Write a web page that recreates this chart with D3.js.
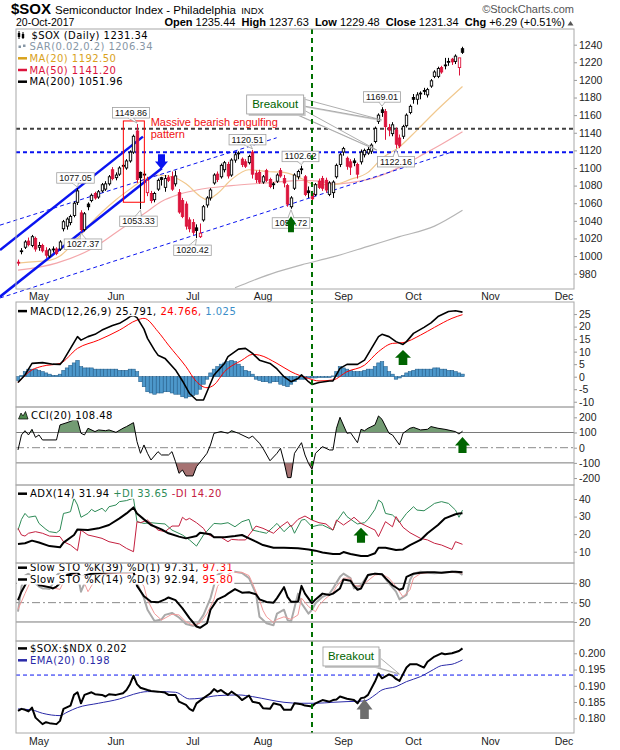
<!DOCTYPE html>
<html>
<head>
<meta charset="utf-8">
<title>$SOX Semiconductor Index</title>
<script src="https://cdn.jsdelivr.net/npm/d3@7"></script>
<style>
  body { margin: 0; background: #fff; }
  svg { display: block; }
  text { white-space: pre; }
</style>
</head>
<body>
<div id="chart"></div>
<script>
// $SOX daily, 20-Oct-2017, StockCharts style layout drawn with D3

// ---------- data ----------
// x = trading session index, 0 = 1-May-2017
const monthLabels = ["May", "Jun", "Jul", "Aug", "Sep", "Oct", "Nov", "Dec"]
const monthStarts = [0, 22, 44, 64, 87, 107, 129, 150]
const firstSession = -6      // 21-Apr-2017
const markerSession = 78     // green dashed line (21-Aug)
const closeBefore = 995      // 20-Apr close, only colours the first candle

// [open, high, low, close] per session, 21-Apr .. 20-Oct
const ohlc = [
  [993,996,989,992],[1005,1009,1002,1006],[1010,1018,1008,1016],[1017,1021,1011,1013],[1012,1024,1010,1022],[1020,1022,1005,1008],
  [1010,1016,1006,1012],[1012,1014,1004,1006],[1006,1010,998,1001],[1000,1009,998,1007],[1007,1011,1004,1008],
  [1008,1010,1001,1003],[1008,1018,1006,1016],[1031,1041,1028,1039],[1034,1044,1030,1042],[1038,1047,1035,1045],
  [1046,1062,1044,1060],[1061,1077.05,1058,1074],[1049,1052,1027.37,1030],[1030,1050,1028,1048],[1059,1061,1052,1056],
  [1063,1071,1061,1069],[1071,1073,1064,1066],[1067,1075,1065,1073],[1074,1083,1072,1081],[1076,1085,1074,1082],
  [1082,1092,1080,1090],[1098,1101,1086,1088],[1089,1095,1086,1092],[1093,1102,1091,1100],[1103,1105,1098,1102],
  [1100,1110,1098,1108],[1108,1120,1106,1118],[1118,1138,1116,1136],[1142,1149.86,1083,1087],[1095,1096,1053.33,1089],
  [1093,1097,1088,1092],[1072,1090,1068,1086],[1071,1074,1060,1063],[1064,1073,1061,1071],[1076,1088,1074,1086],
  [1089,1090,1080,1087],[1078,1092,1073,1088],[1089,1092,1084,1086],[1090,1096,1074,1076],[1082,1097,1079,1091],
  [1072,1076,1048,1050],[1063,1066,1043,1045],[1059,1062,1030,1034],[1041,1044,1027,1031],[1038,1042,1024,1027],
  [1032,1036,1020.42,1029],[1022,1037,1020.5,1026],[1041,1058,1039,1056],[1058,1068,1055,1066],[1066,1077,1063,1075],
  [1083,1094,1081,1092],[1093,1096,1084,1087],[1090,1105,1088,1103],[1098,1108,1095,1106],[1104,1107,1088,1091],
  [1092,1111,1090,1109],[1109,1118,1106,1115],[1117,1119,1110,1116],[1110,1112,1101,1104],[1107,1110,1100,1102],
  [1106,1115,1104,1113],[1118,1120.51,1088,1093],[1094,1097,1083,1087],[1095,1098,1082,1084],[1084,1092,1082,1090],
  [1097,1099,1084,1086],[1087,1089,1077,1079],[1082,1084,1076,1081],[1085,1094,1083,1092],[1097,1100,1089,1091],
  [1088,1092,1078,1083],[1080,1082,1056,1059],[1056,1068,1053.72,1066],[1077,1094,1075,1092],[1090,1098,1087,1096],
  [1099,1102.62,1093,1098],[1090,1092,1068,1070],[1074,1079,1066,1072],[1071,1074,1060,1065],[1070,1083,1068,1081],
  [1085,1088,1076,1078],[1088,1091,1074,1077],[1086,1089,1072,1075],[1070,1085,1068,1083],[1072,1086,1066,1084],
  [1090,1105,1088,1103],[1104,1117,1101,1115],[1118,1124,1114,1122],[1111,1113,1098,1102],[1107,1110,1092,1101],
  [1108,1111,1102,1106],[1104,1106,1088,1093],[1107,1121,1104,1118],[1115,1122,1112,1120],[1117,1124,1115,1121],
  [1119,1128,1116,1126],[1130,1147,1128,1145],[1153,1162,1150,1160],[1166,1169.01,1158,1163],[1164,1167,1132,1147],
  [1146,1150,1136,1143],[1139,1152,1136,1149],[1143,1146,1122.16,1127],[1134,1138,1122.5,1125],[1136,1149,1133,1147],
  [1148,1162,1146,1160],[1163,1172,1161,1170],[1180,1184,1173,1178],[1178,1186,1172,1183],[1185,1187,1178,1184],
  [1188,1191,1183,1187],[1183,1191,1180,1189],[1193,1201,1191,1199],[1204,1211,1202,1209],[1204,1215,1202,1213],
  [1214,1216,1207,1209],[1216,1225,1212,1217],[1220,1225,1216,1221],[1223.5,1225,1217,1220.5],[1221,1229,1218,1227],
  [1214,1224,1205,1225.05],[1235.44,1237.63,1229.48,1231.34]
]

// moving averages, [session, value]
const ma20 = [[-6,992],[0,994],[3,995],[6,1000],[8,1007],[10,1016],[12,1024],[15,1038],[18,1050],[22,1064],[26,1076],[30,1087],[34,1092],[38,1090],[42,1082],[46,1068],[48,1064],[51,1071],[55,1087],[60,1098],[65,1096],[70,1095],[75,1088],[79,1081],[84,1081],[89,1087],[94,1095],[98,1111],[103,1124],[108,1143],[113,1163],[117,1178],[121,1192.5]]
const ma50 = [[-6,984],[5,992],[15,1008],[25,1035],[30,1048],[35,1062],[40,1070],[45,1075],[55,1080],[65,1083],[75,1086],[80,1085],[85,1082],[90,1084],[95,1088],[100,1095],[105,1105],[110,1116],[115,1127],[121,1141.2]]
const ma200 = [[56,964],[61,972],[68,982],[75,990],[84,999],[94,1011],[103,1022],[113,1034],[121,1051.96]]

// MACD(12,26,9)
const macdLine = [[-6,-2.3],[-4,0.7],[-2,5.3],[1,5.6],[4,5.0],[6,4.9],[7,6.6],[9,11.3],[11,16],[12,14.6],[14,16],[16,16.9],[18,18.6],[21,20.4],[23,21.3],[25,23],[26,24],[27,24.4],[28,23.6],[30,19],[31,15.3],[33,10.6],[34,8.6],[36,7.3],[39,2.7],[41,-1.7],[43,-6.7],[45,-9.3],[47,-9.3],[48,-6],[50,0.7],[53,5.3],[54,8],[57,11],[59,11.3],[61,9.3],[63,6.6],[66,5.3],[68,3.1],[70,0],[72,-2],[74,-0.7],[75,0.7],[77,-2],[78,-3.1],[80,-2.3],[83,-1.7],[84,-1.7],[86,3.3],[88,4.9],[91,4.9],[93,6.6],[95,11.3],[97,16],[98,16.9],[100,16],[102,14],[104,12.9],[105,14],[107,17.3],[110,19.7],[112,21.5],[114,24],[117,26],[119,26.3],[121,25.79]]
const macdSignal = [[-6,-2.3],[-2,2.7],[1,4.2],[6,5.3],[11,11.3],[17,14.6],[23,18.6],[28,22.6],[30,23.3],[34,18],[37,12.6],[42,4],[45,-2],[48,-4.4],[50,-3.3],[53,2],[58,6.6],[61,8.9],[63,8.6],[68,5.3],[72,2],[77,-0.7],[80,-1.7],[84,-1.3],[88,2],[93,4.6],[97,10],[101,13.3],[104,13.6],[109,16.6],[113,19.7],[118,23.3],[121,24.77]]
const macdHist = [
  -1.5,0.5,2,3,3,3,
  2.5,2,1.5,1,0.5,0.5,1,2.5,3.5,4.5,
  5.5,6.5,4,3.5,3.5,3.5,3,3,3,3,
  3,3,3,2.5,2.5,2.5,3,3,2,-2,
  -4,-6,-6.5,-7,-6.5,-6.5,-6,-6,-6.5,-7,
  -7,-8,-8.5,-8,-7.5,-7,-5,-3,-1,1.5,
  3,4,5,5.5,6,6.5,6,5,4,2.5,
  2,1,-1,-1.5,-2,-2,-2.5,-2,-2,-3,
  -3.5,-4,-3,-2,-1,-1,-1,-0.5,-0.5,-0.5,
  -0.3,-0.3,-0.3,-0.3,0.3,2,4,3.5,3,2.5,
  2,2,2,2.5,3,3,4,5.5,6,4,
  2,1,-1,-0.5,0.5,1.5,2,2.5,3,3,
  3,3,3,3.5,3.5,3,3,2.5,2.5,2,
  1.5,1.025
]

// CCI(20)
const cci = [[-6,-15],[-5,84],[-4,112],[-3,84],[-2,121],[-1,68],[0,84],[1,51],[5,51],[6,150],[8,165],[10,182],[11,182],[12,95],[13,84],[14,128],[16,106],[17,117],[19,112],[20,117],[22,101],[24,128],[25,139],[27,165],[28,40],[29,-37],[30,18],[31,-37],[32,-81],[34,-26],[35,-48],[37,-48],[38,-26],[39,-92],[40,-169],[41,-147],[42,-186],[44,-186],[45,-125],[48,-37],[49,18],[50,95],[52,106],[54,95],[55,112],[57,95],[58,84],[60,62],[61,77],[63,29],[64,-4],[66,-86],[68,-37],[69,-4],[70,-92],[71,-197],[72,-197],[73,-37],[75,33],[76,-48],[77,-103],[78,-143],[79,-37],[81,7],[83,-15],[84,-15],[85,128],[86,200],[88,95],[89,99],[91,33],[92,121],[93,112],[94,128],[96,150],[97,209],[98,187],[100,95],[101,84],[103,18],[104,95],[106,128],[107,134],[109,117],[111,121],[112,139],[114,128],[116,121],[119,106],[120,90],[121,108.48]]

// ADX(14), +DI, -DI
const adx = [[-6,14.4],[-4,14.8],[-2,16.3],[0,15.2],[3,13.2],[6,12.5],[7,15.2],[10,19.5],[11,22.7],[14,22.3],[17,23.3],[20,25.2],[23,29],[25,31.8],[27,35.2],[28,31.8],[30,28.4],[32,25.2],[35,22.7],[37,20.5],[40,18.6],[42,17.6],[45,18.9],[46,20.8],[49,19.9],[50,18.2],[53,18.2],[56,18.9],[58,19.5],[60,17.6],[62,15.7],[64,13.8],[67,12.3],[70,12.3],[74,11.9],[77,11.3],[79,10.6],[81,9.5],[84,8.7],[86,8.7],[87,9.8],[89,8.7],[92,7.6],[94,7.6],[96,9.1],[97,12.3],[99,12.3],[102,11],[104,11.3],[106,13.8],[109,16.7],[111,20.5],[114,25.2],[116,29],[119,31.3],[120,31.8],[121,31.94]]
const plusDI = [[-6,22.3],[-5,28.4],[-4,31.8],[-3,29.6],[-1,30.3],[0,26.1],[2,22.7],[3,21.4],[5,20.8],[6,22.3],[7,31.8],[8,32.2],[9,32.8],[10,40.4],[11,36.6],[12,29.6],[14,31.8],[15,34.1],[16,32.8],[18,34.7],[19,32.8],[20,35.6],[22,36.6],[23,38.5],[25,39.1],[26,39.8],[27,40.4],[28,27.1],[30,26.1],[32,26.5],[34,26.1],[36,25.8],[38,22.3],[41,19.5],[43,16.7],[45,13.2],[47,19.5],[50,26.1],[52,25.8],[54,26.5],[56,24.2],[58,27.1],[60,28.4],[61,22.3],[63,21.4],[65,20.5],[67,24.2],[68,26.1],[70,21.4],[72,25.2],[73,20.5],[75,28],[76,28.4],[78,24.2],[80,25.2],[81,25.2],[84,22.3],[85,27.1],[87,32.8],[88,30],[90,27.1],[91,25.8],[93,26.5],[94,28.4],[96,34.1],[97,39.4],[98,37.9],[99,31.8],[101,30.9],[102,29],[103,26.5],[105,31.8],[107,35.6],[108,33.7],[110,33.3],[112,36],[113,37.5],[115,38.5],[117,37.5],[119,33.7],[120,29.6],[121,33.65]]
const minusDI = [[-6,23.3],[-5,19.5],[-4,18.9],[-3,20.5],[-1,21.4],[1,20.5],[3,18.9],[6,18.6],[7,15.7],[9,13.8],[11,10.6],[12,22.3],[14,19.5],[16,18.6],[18,17.6],[20,15.7],[23,14.4],[25,11.9],[27,10],[28,27.1],[29,26.5],[31,28],[32,26.1],[34,22.3],[36,21.4],[38,24.6],[40,24.6],[41,29.6],[42,28],[43,29],[45,26.5],[47,23.3],[48,20.1],[50,18.2],[52,18.2],[54,15.7],[55,17],[57,16.7],[59,16.7],[60,19.5],[62,24.6],[64,23.3],[67,20.5],[69,24.2],[71,27.1],[72,24.2],[74,28.4],[76,30.3],[78,28],[80,26.5],[82,25.8],[84,22.3],[85,28],[87,25.2],[89,28],[90,29.6],[92,26.1],[94,24.2],[96,22.3],[97,18.6],[99,27.1],[101,24.2],[102,30],[104,23.9],[106,20.8],[109,17.6],[111,16.7],[113,14.8],[115,13.8],[118,11.3],[119,15.7],[121,14.2]]

// Slow stochastics
const stoK39 = [[-6,54],[-5,67],[-4,77],[-3,86],[-2,90],[-1,84],[0,77],[1,76],[3,74],[4,72],[5,75],[6,80],[7,88],[8,93],[10,96],[11,97],[12,90],[13,92],[15,95],[20,97],[27,98],[28,76],[30,60],[32,51.5],[34,50.5],[36,55],[37,58],[39,54],[41,41],[43,26],[45,13],[46,11],[48,18],[49,39],[51,55],[53,60],[54,64],[56,71],[58,65.5],[60,66],[62,63],[63,55],[65,51],[67,50],[68,57],[70,74],[71,59],[72,51.5],[74,51.5],[75,76],[76,64],[78,49],[79,55],[81,64],[83,62],[84,64],[86,72],[87,86],[89,84],[90,76],[91,70],[92,72],[94,93],[96,95],[98,94],[99,88],[101,77],[103,70],[104,72],[105,90],[107,95],[109,96.5],[111,97],[113,97],[115,96.5],[118,98],[119,98],[121,97.31]]
const stoK14 = [[-6,36],[-5,75],[-4,92],[-3,95],[-2,88],[-1,80],[0,75],[1,72],[2,72],[3,71],[4,80],[5,92],[6,97],[7,98],[8,97],[9,98],[10,96],[11,95],[12,67],[13,80],[14,92],[15,95],[17,96],[19,95],[21,96],[23,97],[25,97],[27,98],[28,80],[30,57],[31,39],[33,21.5],[35,24],[36,31],[38,34],[40,27],[42,17],[44,14],[45,15],[47,31],[49,57],[50,77],[51,93],[53,99],[56,98],[58,96],[60,88],[62,64],[63,28],[65,18],[67,15],[68,33],[70,39],[71,23],[72,20.5],[74,64],[75,49],[77,33],[78,39],[79,49],[81,59],[83,64],[84,72],[86,90],[87,95],[89,88],[90,72],[92,77],[94,93],[96,95],[98,94],[100,80],[102,67],[103,55],[105,62],[106,85],[107,95],[109,98],[111,96.5],[113,95.4],[115,96.5],[118,98],[120,96.5],[121,92.94]]
const stoD3 = [[-6,39.6],[-4,64],[-2,88],[1,77],[3,74],[6,70.6],[7,82],[10,95],[13,80],[14,67],[16,85],[18,95],[22,96],[27,96],[28,92],[30,75],[31,54],[33,33],[35,23],[36,26],[38,32],[40,31],[42,20.5],[44,15],[46,18],[48,33],[50,55],[51,75],[53,90],[55,97],[58,97],[60,92],[61,80],[63,54],[64,38],[65,28],[67,19],[68,24],[70,28],[72,24],[74,31],[75,57],[77,44],[79,36],[80,46],[82,57],[84,65.5],[85,75],[87,88],[89,88],[90,77],[92,75],[94,84],[96,93],[98,94],[100,88],[102,75],[104,59],[106,70],[107,88],[109,95],[112,97],[115,96.5],[119,97.5],[121,95.8]]

// $SOX:$NDX ratio and its EMA(20)
const ratio = [[-6,.1823],[-5,.1829],[-4,.1826],[-3,.1821],[-2,.1833],[-1,.1802],[1,.1782],[2,.1788],[3,.1785],[5,.1782],[6,.1792],[7,.1829],[9,.1839],[10,.1872],[11,.1880],[12,.1846],[13,.1872],[15,.1880],[16,.1874],[18,.1872],[19,.1867],[20,.1874],[22,.1872],[24,.1877],[25,.1887],[26,.1905],[27,.1931],[28,.1905],[29,.1894],[31,.1887],[32,.1884],[34,.1882],[36,.1879],[37,.1872],[39,.1872],[40,.1851],[42,.1841],[43,.1829],[44,.1823],[45,.1846],[47,.1862],[49,.1877],[50,.1890],[51,.1882],[52,.1887],[53,.1879],[54,.1872],[55,.1882],[57,.1867],[58,.1856],[60,.1870],[61,.1851],[63,.1846],[64,.1831],[66,.1829],[67,.1846],[69,.1841],[70,.1826],[72,.1826],[73,.1846],[75,.1843],[76,.1839],[78,.1836],[79,.1846],[81,.1856],[83,.1851],[84,.1856],[85,.1858],[86,.1867],[88,.1860],[90,.1856],[91,.1846],[92,.1862],[93,.1864],[94,.1872],[96,.1913],[97,.1938],[98,.1923],[100,.1935],[101,.1931],[102,.1921],[103,.1915],[105,.1956],[106,.1966],[108,.1966],[110,.1956],[111,.1974],[113,.1990],[115,.2000],[116,.1997],[118,.2000],[120,.2007],[121,.2015]]
const ratioEma = [[-6,.18287],[-2,.18256],[1,.18154],[6,.18082],[8,.18185],[11,.18328],[17,.18462],[23,.18595],[27,.18738],[31,.18821],[34,.18821],[39,.18800],[43,.18595],[46,.18615],[51,.18697],[57,.18718],[61,.18667],[66,.18564],[70,.18492],[75,.18462],[79,.18462],[84,.18492],[88,.18513],[93,.18533],[96,.18718],[98,.18872],[102,.18974],[105,.19128],[109,.19282],[112,.19456],[115,.19621],[118,.19662],[121,.19795]]

// annotation values
const tagSessions = [28, 11, 12, 29, 45, 61, 75, 72, 98, 102]
const tagValues = [1149.86, 1077.05, 1027.37, 1053.33, 1020.42, 1120.51, 1102.62, 1053.72, 1169.01, 1122.16]
const resistanceLevel = 1144.5
const breakoutLevel = 1118
const ratioLevel = 0.1933

// ---------- layout ----------
const W = 620, H = 750
const X0 = 16, X1 = 574
const PANEL = { main: [29, 289], macd: [302, 407], cci: [407, 485], adx: [485, 563], sto: [563, 641], ratio: [641, 733] }
const SANS = "'Liberation Sans', Arial, sans-serif"
const LEG = "'DejaVu Sans', Verdana, sans-serif"
const RED = "#dc143c", GREEN = "#006400", BLUE = "#0a14f0"

// tag placement: above/below the bar, horizontal shift, gap
const tagPlace = [['a',-6,6],['a',-2,5],['b',2,7],['b',-2,7],['b',-4,7],['a',-5,5],['a',-1,4],['b',0,9],['a',0,5],['b',0,8]]

const svg = d3.select('#chart').append('svg')
  .attr('width', W).attr('height', H)
  .attr('viewBox', [0, 0, W, H])
  .style('font-family', SANS)

const x = d3.scaleLinear().domain([-6.57, 152.86]).range([X0, X1])

function makePanel(key, domain, ticks, fmt) {
  const [top, bottom] = PANEL[key]
  const y = d3.scaleLinear().domain(domain).range([bottom, top])
  const ax = svg.append('g')
    .attr('transform', `translate(${X1},0)`)
    .call(d3.axisRight(y).tickValues(ticks).tickSize(3).tickPadding(2).tickFormat(fmt))
  ax.select('.domain').remove()
  ax.selectAll('.tick line').attr('stroke', '#999')
  ax.selectAll('.tick text').attr('font-size', 10.5).attr('font-family', SANS).attr('fill', '#222')
  return y
}

const yMain = makePanel('main', [962.6, 1257.8], d3.range(980, 1241, 20), d => String(d))
const yMacd = makePanel('macd', [-12.1, 29.82], [-10, -5, 0, 5, 10, 15, 20, 25], d => String(d))
const yCci = makePanel('cci', [-245.7, 268], [-200, -100, 0, 100, 200], d => String(d))
const yAdx = makePanel('adx', [3.57, 47.97], [10, 20, 30, 40], d => String(d))
const ySto = makePanel('sto', [-9.5, 111.5], [20, 50, 80], d => String(d))
const yRat = makePanel('ratio', [0.17547, 0.20378], [0.180, 0.185, 0.190, 0.195, 0.200], d3.format('.3f'))

const line = (ys, curve) => d3.line().x(d => x(d[0])).y(d => ys(d[1])).curve(curve || d3.curveLinear)

function clipFor(key) {
  const [top, bottom] = PANEL[key]
  const id = 'clip-' + key
  svg.append('clipPath').attr('id', id)
    .append('rect').attr('x', X0).attr('y', top).attr('width', X1 - X0).attr('height', bottom - top)
  return `url(#${id})`
}

function hline(ys, v, color, width, dash) {
  svg.append('line')
    .attr('x1', X0).attr('x2', X1)
    .attr('y1', ys(v)).attr('y2', ys(v))
    .attr('stroke', color).attr('stroke-width', width)
    .attr('stroke-dasharray', dash)
}

function path(data, ys, color, width, curve, clip) {
  return svg.append('path').datum(data)
    .attr('d', line(ys, curve))
    .attr('fill', 'none').attr('stroke', color).attr('stroke-width', width)
    .attr('stroke-linejoin', 'round')
    .attr('clip-path', clip || null)
}

// ---------- month labels ----------
function monthAxis(yBase) {
  svg.append('g').selectAll('text').data(monthLabels).join('text')
    .attr('x', (d, k) => x(monthStarts[k])).attr('y', yBase)
    .attr('text-anchor', 'middle').attr('font-size', 10.5).attr('fill', '#222')
    .text(d => d)
}
monthAxis(299.5)
monthAxis(745)

// ---------- main panel ----------
const clipMain = clipFor('main')
path(ma200, yMain, '#b5b5b5', 1.2, d3.curveMonotoneX, clipMain)
path(ma50, yMain, '#f4a7ab', 1.2, d3.curveMonotoneX, clipMain)
path(ma20, yMain, '#f1c88e', 1.2, d3.curveMonotoneX, clipMain)

// channel and levels
hline(yMain, resistanceLevel, '#404040', 2, '4,3')
hline(yMain, breakoutLevel, BLUE, 2, '4,3')
const trend = [
  { a: [-11.14, 1006.9], b: [29.7, 1135.6], w: 2.5, dash: null },
  { a: [-11.14, 953.9], b: [35.1, 1099.7], w: 2.5, dash: null },
  { a: [-11.14, 1035.1], b: [67.9, 1134.3], w: 1, dash: '4,3' },
  { a: [-11.14, 952.4], b: [117.4, 1117.4], w: 1, dash: '4,3' }
]
trend.forEach(t => {
  svg.append('line')
    .attr('x1', x(t.a[0])).attr('y1', yMain(t.a[1]))
    .attr('x2', x(t.b[0])).attr('y2', yMain(t.b[1]))
    .attr('stroke', BLUE).attr('stroke-width', t.w).attr('stroke-dasharray', t.dash)
})

// candles
const gC = svg.append('g')
ohlc.forEach(([o, h, l, c], k) => {
  const i = firstSession + k
  const prev = k ? ohlc[k - 1][3] : closeBefore
  const col = c < prev ? RED : '#000'
  const cx = Math.round(x(i)) + 0.5
  gC.append('line').attr('x1', cx).attr('x2', cx)
    .attr('y1', yMain(h)).attr('y2', yMain(l)).attr('stroke', col)
  const top = yMain(Math.max(o, c)), bot = yMain(Math.min(o, c))
  gC.append('rect')
    .attr('x', cx - 1.2).attr('y', top)
    .attr('width', 2.4).attr('height', Math.max(bot - top, 0.8))
    .attr('fill', c < o ? col : '#fff')
    .attr('stroke', col).attr('stroke-width', 0.9)
})

// engulfing box and note
svg.append('rect')
  .attr('x', x(24.1)).attr('y', yMain(1153.4))
  .attr('width', x(30.1) - x(24.1)).attr('height', yMain(1061.1) - yMain(1153.4))
  .attr('fill', 'none').attr('stroke', '#ff0000').attr('stroke-width', 1)
const note = svg.append('text').attr('x', x(31.9)).attr('y', yMain(1147.7))
  .attr('font-size', 11).attr('fill', '#f01010')
note.append('tspan').text('Massive bearish engulfing')
note.append('tspan').attr('x', x(31.9)).attr('dy', 12.5).text('pattern')

// price tags
tagSessions.forEach((s, k) => {
  const [pos, dx, gap] = tagPlace[k]
  const px = x(s), py = yMain(tagValues[k])
  const cx = px + dx
  const g = svg.append('g')
  const txt = g.append('text').attr('x', cx).attr('text-anchor', 'middle')
    .attr('font-size', 9).attr('fill', '#111').text(d3.format('.2f')(tagValues[k]))
  const w = txt.node().getComputedTextLength() + 5, h = 10.5
  const top = pos === 'a' ? py - gap - h : py + gap
  txt.attr('y', top + 8.2)
  const edge = pos === 'a' ? top + h : top
  const tip = pos === 'a' ? py - 1 : py + 1
  g.insert('path', 'text')
    .attr('d', `M${cx - 3},${edge} L${px},${tip} L${cx + 3},${edge} Z`)
    .attr('fill', '#fff').attr('stroke', '#a0a0a0').attr('stroke-width', 0.8)
  g.insert('rect', 'text')
    .attr('x', cx - w / 2).attr('y', top).attr('width', w).attr('height', h)
    .attr('fill', '#fff').attr('stroke', '#a0a0a0').attr('stroke-width', 0.8)
  g.insert('path', 'text')
    .attr('d', `M${cx - 2.2},${edge} L${cx + 2.2},${edge}`)
    .attr('stroke', '#fff').attr('stroke-width', 1.2)
})

// arrows
function arrow(i, v, ys, w, h, color, down) {
  const px = x(i), py = ys(v), s = down ? -1 : 1
  const hw = w / 2, sw = w * 0.27, hh = h * 0.52
  const pts = [[0, 0], [hw, hh], [sw, hh], [sw, h], [-sw, h], [-sw, hh], [-hw, hh]]
    .map(([a, b]) => [px + a, py + s * b])
  svg.append('polygon').attr('points', pts.map(p => p.join(',')).join(' ')).attr('fill', color)
}

// callouts
function callout(c, ys) {
  const bx = x(c.i), by = ys(c.v)
  const g = svg.append('g')
  c.tails.forEach(t => {
    const tx = x(t.i), ty = ys(t.v)
    const d = `M${bx + t.a[0]},${by + t.a[1]} L${tx},${ty} L${bx + t.b[0]},${by + t.b[1]} Z`
    g.append('path').attr('d', d).attr('fill', '#d0d0d0').attr('transform', 'translate(1.5,1.5)')
    g.append('path').attr('d', d).attr('fill', '#fff').attr('stroke', '#999').attr('stroke-width', 0.8)
  })
  g.append('rect').attr('x', bx + 2).attr('y', by + 2).attr('width', c.w).attr('height', c.h).attr('fill', '#c8c8c8')
  g.append('rect').attr('x', bx).attr('y', by).attr('width', c.w).attr('height', c.h)
    .attr('fill', '#fff').attr('stroke', '#999').attr('stroke-width', 0.8)
  g.append('text').attr('x', bx + c.w / 2).attr('y', by + c.h / 2 + 4)
    .attr('text-anchor', 'middle').attr('font-size', 11.5).attr('fill', GREEN).text('Breakout')
}

callout({
  i: 59.34, v: 1182.9, w: 57, h: 19,
  tails: [
    { i: 97.9, v: 1154.5, a: [57, 4], b: [57, 11] },
    { i: 96.5, v: 1120.4, a: [49, 19], b: [57, 15] }
  ]
}, yMain)

arrow(72, 1045.3, yMain, 11, 16, GREEN)
arrow(35, 1098.6, yMain, 13, 15, BLUE, true)

// ---------- MACD ----------
const bw = x(1) - x(0)
svg.append('g').selectAll('rect').data(macdHist).join('rect')
  .attr('x', (d, k) => x(firstSession + k) - bw / 2)
  .attr('width', bw)
  .attr('y', d => Math.min(yMacd(d), yMacd(0)))
  .attr('height', d => Math.abs(yMacd(d) - yMacd(0)))
  .attr('fill', '#4d98cb').attr('stroke', '#245f8c').attr('stroke-width', 0.6)
path(macdSignal, yMacd, '#ff0000', 1, d3.curveMonotoneX)
path(macdLine, yMacd, '#000', 1.6)
arrow(104, 10.7, yMacd, 16, 15, GREEN)

// ---------- CCI ----------
const [cTop, cBot] = PANEL.cci
svg.append('clipPath').attr('id', 'cci-up').append('rect')
  .attr('x', X0).attr('y', cTop).attr('width', X1 - X0).attr('height', yCci(100) - cTop)
svg.append('clipPath').attr('id', 'cci-dn').append('rect')
  .attr('x', X0).attr('y', yCci(-100)).attr('width', X1 - X0).attr('height', cBot - yCci(-100))
svg.append('path').datum(cci)
  .attr('d', d3.area().x(d => x(d[0])).y0(yCci(100)).y1(d => yCci(d[1])))
  .attr('fill', '#739b73').attr('clip-path', 'url(#cci-up)')
svg.append('path').datum(cci)
  .attr('d', d3.area().x(d => x(d[0])).y0(yCci(-100)).y1(d => yCci(d[1])))
  .attr('fill', '#a67272').attr('clip-path', 'url(#cci-dn)')
hline(yCci, 100, '#7a7a7a', 1, null)
hline(yCci, -100, '#7a7a7a', 1, null)
hline(yCci, 0, '#8a8a8a', 1, '8,3,2,3')
path(cci, yCci, '#000', 1)
arrow(121, 70, yCci, 15, 16, GREEN)

// ---------- ADX ----------
path(plusDI, yAdx, '#2e8b57', 1)
path(minusDI, yAdx, '#c4203f', 1)
path(adx, yAdx, '#000', 2)
arrow(92, 23.7, yAdx, 15, 15, GREEN)

// ---------- Stochastics ----------
hline(ySto, 80, '#7a7a7a', 1, null)
hline(ySto, 20, '#7a7a7a', 1, null)
hline(ySto, 50, '#8a8a8a', 1, '8,3,2,3')
const clipSto = clipFor('sto')
path(stoK14, ySto, '#a9a9a9', 2, d3.curveLinear, clipSto)
path(stoD3, ySto, '#f39a9a', 1, d3.curveLinear, clipSto)
path(stoK39, ySto, '#000', 2, d3.curveLinear, clipSto)

// ---------- ratio ----------
hline(yRat, ratioLevel, BLUE, 1, '4,3')
path(ratioEma, yRat, '#2a2aa8', 1, d3.curveMonotoneX)
path(ratio, yRat, '#000', 2)
arrow(93, 0.18594, yRat, 16, 20, '#6e6e6e')
callout({
  i: 81.14, v: 0.20194, w: 56, h: 19,
  tails: [{ i: 102.94, v: 0.19366, a: [56, 10], b: [49, 19] }]
}, yRat)

// ---------- marker line ----------
svg.append('line')
  .attr('x1', x(markerSession)).attr('x2', x(markerSession))
  .attr('y1', PANEL.main[0]).attr('y2', PANEL.ratio[1])
  .attr('stroke', '#007000').attr('stroke-width', 2).attr('stroke-dasharray', '5,4')

// ---------- legends ----------
// white backing goes under all legend text so one line never hides another
const legendBack = svg.append('g')
const legendFront = svg.append('g')
function legend(px, py, parts, icon) {
  const t = legendFront.append('text').attr('x', px).attr('y', py)
    .attr('font-family', LEG).attr('font-size', 10).attr('letter-spacing', 0.45)
  parts.forEach(p => t.append('tspan').attr('fill', p[1]).text(p[0]))
  const b = t.node().getBBox()
  legendBack.append('rect')
    .attr('x', 17).attr('y', b.y + 1).attr('width', b.x + b.width - 16).attr('height', b.height - 1.5)
    .attr('fill', '#fff')
  if (icon) {
    legendFront.append('line').attr('x1', 18).attr('x2', 27).attr('y1', py - 3.6).attr('y2', py - 3.6)
      .attr('stroke', icon).attr('stroke-width', 2.5)
  }
}

legend(31.5, 38.5, [['$SOX (Daily) 1231.34', '#000']])
legend(29.5, 50.2, [['SAR(0.02,0.2) 1206.34', '#8797a6']])
legend(29.5, 61.9, [['MA(20) 1192.50', '#d9a21b']], '#d9a21b')
legend(29.5, 73.6, [['MA(50) 1141.20', RED]], RED)
legend(29.5, 85.3, [['MA(200) 1051.96', '#000']], '#000')
// candle and SAR icons
;[[19, 31, 39, 33, 37], [23, 32, 39, 34, 38]].forEach(([cx, t, b, bt, bb]) => {
  legendFront.append('line').attr('x1', cx).attr('x2', cx).attr('y1', t).attr('y2', b).attr('stroke', '#000')
  legendFront.append('rect').attr('x', cx - 1.2).attr('y', bt).attr('width', 2.4).attr('height', bb - bt).attr('fill', '#000')
})
legendFront.append('rect').attr('x', 18.5).attr('y', 45.5).attr('width', 2.5).attr('height', 2.5).attr('fill', '#8797a6')
legendFront.append('rect').attr('x', 23).attr('y', 44.5).attr('width', 2.5).attr('height', 2.5).attr('fill', '#8797a6')

legend(30, 314.7, [['MACD(12,26,9) 25.791,', '#000'], [' 24.766,', '#ff0000'], [' 1.025', '#3a8dc8']], '#000')
legend(31, 419, [['CCI(20) 108.48', '#000']])
legendFront.append('path').attr('d', 'M18.5,419 L21,413 L23,416 L25.5,411.5 L28,419 Z')
  .attr('fill', '#4f8a4f').attr('stroke', '#000').attr('stroke-width', 0.7)
legend(30, 497.3, [['ADX(14) 31.94', '#000'], [' +DI 33.65', '#2e8b57'], [' -DI 14.20', '#c4203f']], '#000')
legend(30, 571.3, [['Slow STO %K(39) %D(1) 97.31,', '#000'], [' 97.31', '#ff0000']], '#000')
legend(30, 583.1, [['Slow STO %K(14) %D(3) 92.94,', '#000'], [' 95.80', '#ff0000']], '#000')
legend(30, 652, [['$SOX:$NDX 0.202', '#000']], '#000')
legend(30, 663.9, [['EMA(20) 0.198', '#2a2aa8']], '#2a2aa8')

// ---------- frames ----------
Object.values(PANEL).forEach(([top, bottom]) => {
  svg.append('rect').attr('x', X0).attr('y', top).attr('width', X1 - X0).attr('height', bottom - top)
    .attr('fill', 'none').attr('stroke', '#a8a8a8').attr('stroke-width', 1)
})

// ---------- header ----------
svg.append('text').attr('x', 11).attr('y', 14).attr('font-weight', 'bold').attr('font-size', 15).text('$SOX')
const title = svg.append('text').attr('x', 55).attr('y', 14).attr('font-size', 11.5)
title.append('tspan').text('Semiconductor Index - Philadelphia')
title.append('tspan').attr('font-size', 9.5).text('  INDX')
svg.append('text').attr('x', X1).attr('y', 13).attr('text-anchor', 'end')
  .attr('font-size', 11).attr('fill', '#555').text('\u00a9StockCharts.com')
svg.append('text').attr('x', 16).attr('y', 26).attr('font-size', 10.5).text('20-Oct-2017')
const quote = svg.append('text').attr('x', 565).attr('y', 26).attr('text-anchor', 'end').attr('font-size', 11)
;[['Open', true], [' 1235.44  ', false], ['High', true], [' 1237.63  ', false], ['Low', true], [' 1229.48  ', false],
  ['Close', true], [' 1231.34  ', false], ['Chg', true], [' +6.29 (+0.51%)', false]]
  .forEach(([t, b]) => quote.append('tspan').attr('font-weight', b ? 'bold' : 'normal').text(t))
svg.append('path').attr('d', 'M567.5,25.5 L573.5,25.5 L570.5,21 Z').attr('fill', '#555')
</script>
</body>
</html>
